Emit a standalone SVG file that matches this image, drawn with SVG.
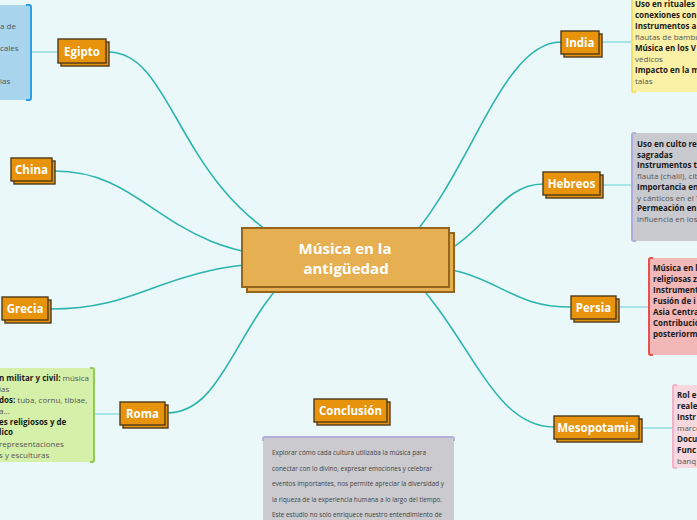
<svg xmlns="http://www.w3.org/2000/svg" width="697" height="520" viewBox="0 0 697 520">
<style>
.bg{fill:#eaf8f9}
.conn path{fill:none;stroke:#2bb4ae;stroke-width:1.6}
.nconn line{stroke:#97dfe1;stroke-width:1.6}
.sh,.fr{fill:#e8930c;stroke:#4d3a1c;stroke-width:1.4}
.csh,.cfr{fill:#e5af52;stroke:#93651f;stroke-width:2}
.lbl{font-family:"Open Sans","Liberation Sans",sans-serif;font-weight:bold;font-size:11.5px;fill:#ffffff;text-anchor:middle}
.clbl{font-family:"Open Sans","Liberation Sans",sans-serif;font-weight:bold;font-size:15px;fill:#ffffff;text-anchor:middle}
.nt{font-family:"Open Sans","Liberation Sans",sans-serif;font-size:8px;fill:#555555}
.b{font-weight:bold;fill:#1a1a1a}
.ct{font-family:"Open Sans","Liberation Sans",sans-serif;font-size:6.2px;fill:#444444}
</style>
<rect class="bg" x="0" y="0" width="697" height="520"/>

<g id="connectors">
<g class="conn">
<path d="M108 52 C175 52 175 190 300 250"/>
<path d="M54 171 C150 171 160 255 300 258"/>
<path d="M50 309 C150 309 160 262 300 262"/>
<path d="M167 413 C225 413 235 320 300 265"/>
<path d="M561 42 C500 42 470 180 400 250"/>
<path d="M543 184 C490 184 480 262 400 262"/>
<path d="M571 307 C500 307 500 266 400 264"/>
<path d="M554 427 C490 427 470 330 400 265"/>
</g>
<g class="nconn">
<line x1="31" y1="52" x2="58" y2="52"/>
<line x1="94" y1="414" x2="120" y2="414"/>
<line x1="601" y1="42" x2="632" y2="42"/>
<line x1="603" y1="185" x2="632" y2="185"/>
<line x1="619" y1="307" x2="649" y2="307"/>
<line x1="641" y1="428" x2="673" y2="428"/>
</g>
</g>

<g id="center">
<rect class="csh" x="247" y="233" width="207" height="59"/>
<rect class="cfr" x="242" y="228" width="207" height="59"/>
<text class="clbl" x="345" y="253.5">Música en la</text>
<text class="clbl" x="346" y="274">antigüedad</text>
</g>

<g id="egipto">
<rect class="sh" x="61" y="42" width="48" height="24"/>
<rect class="fr" x="58" y="39" width="48" height="24"/>
<text class="lbl" x="82" y="55.5">Egipto</text>
</g>
<g id="china">
<rect class="sh" x="14" y="161" width="41" height="23"/>
<rect class="fr" x="11" y="158" width="41" height="23"/>
<text class="lbl" x="31.5" y="174">China</text>
</g>
<g id="grecia">
<rect class="sh" x="5" y="300" width="46" height="23"/>
<rect class="fr" x="2" y="297" width="46" height="23"/>
<text class="lbl" x="25" y="313">Grecia</text>
</g>
<g id="roma">
<rect class="sh" x="123" y="405" width="45" height="23"/>
<rect class="fr" x="120" y="402" width="45" height="23"/>
<text class="lbl" x="142.5" y="418">Roma</text>
</g>
<g id="conclusion">
<rect class="sh" x="317" y="402" width="73" height="23"/>
<rect class="fr" x="314" y="399" width="73" height="23"/>
<text class="lbl" x="350.5" y="415">Conclusión</text>
</g>
<g id="india">
<rect class="sh" x="564" y="34" width="38" height="23"/>
<rect class="fr" x="561" y="31" width="38" height="23"/>
<text class="lbl" x="580" y="47">India</text>
</g>
<g id="hebreos">
<rect class="sh" x="546" y="175" width="57" height="23"/>
<rect class="fr" x="543" y="172" width="57" height="23"/>
<text class="lbl" x="571.5" y="188">Hebreos</text>
</g>
<g id="persia">
<rect class="sh" x="574" y="299" width="45" height="23"/>
<rect class="fr" x="571" y="296" width="45" height="23"/>
<text class="lbl" x="593.5" y="312">Persia</text>
</g>
<g id="mesopotamia">
<rect class="sh" x="557" y="419" width="85" height="23"/>
<rect class="fr" x="554" y="416" width="85" height="23"/>
<text class="lbl" x="596.5" y="432">Mesopotamia</text>
</g>

<g id="note-egipto">
<rect x="-6" y="5" width="37" height="95" rx="2" fill="#a8d4ee"/>
<path d="M26 5 H29 Q31 5 31 7 V98 Q31 100 29 100 H26" fill="none" stroke="#2c9ee8" stroke-width="2"/>
<text class="nt" x="0" y="29">a de</text>
<text class="nt" x="0" y="51">cales</text>
<text class="nt" x="0" y="84">ias</text>
</g>

<g id="note-india">
<rect x="632" y="-5" width="70" height="97" rx="2" fill="#faf0a6"/>
<path d="M636 -5 H634 Q632 -5 632 -3 V90 Q632 92 634 92 H636" fill="none" stroke="#f2e06a" stroke-width="2"/>
<text class="nt b" x="635" y="7">Uso en rituales</text>
<text class="nt b" x="635" y="18">conexiones con</text>
<text class="nt b" x="635" y="29">Instrumentos a</text>
<text class="nt" x="635" y="40">flautas de bambú</text>
<text class="nt b" x="635" y="51">Música en los V</text>
<text class="nt" x="635" y="62">védicos</text>
<text class="nt b" x="635" y="73">Impacto en la m</text>
<text class="nt" x="635" y="84">talas</text>
</g>

<g id="note-hebreos">
<rect x="632" y="133" width="70" height="108" rx="2" fill="#c9c9d0"/>
<path d="M636 133 H634 Q632 133 632 135 V239 Q632 241 634 241 H636" fill="none" stroke="#b2aadb" stroke-width="2"/>
<text class="nt b" x="637" y="147">Uso en culto rel</text>
<text class="nt b" x="637" y="157.5">sagradas</text>
<text class="nt b" x="637" y="168">Instrumentos t</text>
<text class="nt" x="637" y="179">flauta (chalil), cít</text>
<text class="nt b" x="637" y="189.5">Importancia en</text>
<text class="nt" x="637" y="200.5">y cánticos en el T</text>
<text class="nt b" x="637" y="211">Permeación en</text>
<text class="nt" x="637" y="222">influencia en los</text>
</g>

<g id="note-persia">
<rect x="649" y="258" width="55" height="97" rx="2" fill="#f2b7b7"/>
<path d="M653 258 H651 Q649 258 649 260 V353 Q649 355 651 355 H653" fill="none" stroke="#e5504c" stroke-width="2"/>
<text class="nt b" x="653" y="271">Música en l</text>
<text class="nt b" x="653" y="282">religiosas z</text>
<text class="nt b" x="653" y="293">Instrument</text>
<text class="nt b" x="653" y="304">Fusión de i</text>
<text class="nt b" x="653" y="315">Asia Centra</text>
<text class="nt b" x="653" y="326">Contribució</text>
<text class="nt b" x="653" y="337">posteriorm</text>
</g>

<g id="note-mesopotamia">
<rect x="673" y="385" width="30" height="83" rx="2" fill="#f6d8de"/>
<path d="M677 385 H675 Q673 385 673 387 V466 Q673 468 675 468 H677" fill="none" stroke="#f2b3c8" stroke-width="2"/>
<text class="nt b" x="677" y="398">Rol e</text>
<text class="nt b" x="677" y="409">reale</text>
<text class="nt b" x="677" y="420">Instr</text>
<text class="nt" x="677" y="431">marco</text>
<text class="nt b" x="677" y="442">Docu</text>
<text class="nt b" x="677" y="453">Func</text>
<text class="nt" x="677" y="464">banq</text>
</g>

<g id="note-roma">
<rect x="-6" y="368" width="100" height="94" rx="2" fill="#d5f0a9"/>
<path d="M90 368 H92 Q94 368 94 370 V460 Q94 462 92 462 H90" fill="none" stroke="#8fcb57" stroke-width="2"/>
<text class="nt" x="-1" y="381"><tspan class="b">n militar y civil:</tspan> música</text>
<text class="nt" x="-1" y="392">ias</text>
<text class="nt" x="-1" y="403"><tspan class="b">dos:</tspan> tuba, cornu, tibiae,</text>
<text class="nt" x="-1" y="414">a...</text>
<text class="nt b" x="-1" y="425">es religiosos y de</text>
<text class="nt b" x="-1" y="435">lico</text>
<text class="nt" x="-1" y="447">representaciones</text>
<text class="nt" x="-1" y="458">s y esculturas</text>
</g>

<g id="note-conclusion">
<rect x="263" y="437" width="191" height="90" rx="2" fill="#cacacf"/>
<path d="M263 441 V439 Q263 437 265 437 H452 Q454 437 454 439 V441" fill="none" stroke="#b6b1dc" stroke-width="2"/>
<text class="ct" x="272" y="455" textLength="154" lengthAdjust="spacingAndGlyphs">Explorar cómo cada cultura utilizaba la música para</text>
<text class="ct" x="272" y="470.5" textLength="160" lengthAdjust="spacingAndGlyphs">conectar con lo divino, expresar emociones y celebrar</text>
<text class="ct" x="272" y="486" textLength="172" lengthAdjust="spacingAndGlyphs">eventos importantes, nos permite apreciar la diversidad y</text>
<text class="ct" x="272" y="501.5" textLength="170" lengthAdjust="spacingAndGlyphs">la riqueza de la experiencia humana a lo largo del tiempo.</text>
<text class="ct" x="272" y="517" textLength="170" lengthAdjust="spacingAndGlyphs">Este estudio no solo enriquece nuestro entendimiento de</text>
</g>
</svg>
